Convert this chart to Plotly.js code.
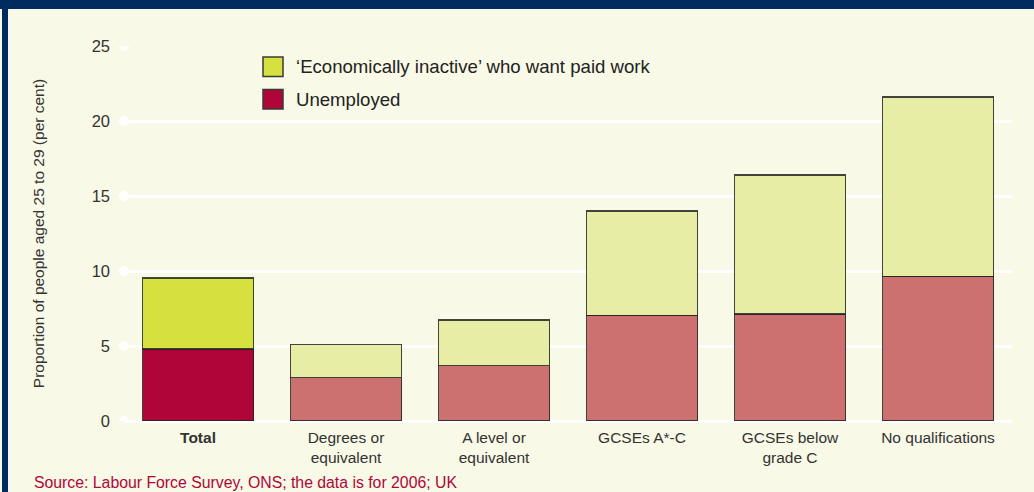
<!DOCTYPE html>
<html>
<head>
<meta charset="utf-8">
<script src="https://cdn.plot.ly/plotly-3.0.1.min.js"></script>
<style>
  html, body { margin: 0; padding: 0; background: #f8f9e6; }
  #frame { position: absolute; left: 0; top: 0; width: 1034px; height: 492px; overflow: hidden; background: #f8f9e6; }
  .bar-top { position: absolute; left: 0; top: 0; width: 1034px; height: 9px; background: #002b5e; }
  .bar-left { position: absolute; left: 2px; top: 0; width: 6px; height: 492px; background: #002b5e; }
  #chart { position: absolute; left: 0; top: 0; width: 1034px; height: 492px; }
</style>
</head>
<body>
<div id="frame">
  <div class="bar-top"></div>
  <div class="bar-left"></div>
  <div id="chart"></div>
</div>
<script>
// ---- data ----
const categories = ["<b>Total</b>", "Degrees or<br>equivalent", "A level or<br>equivalent", "GCSEs A*-C", "GCSEs below<br>grade C", "No qualifications"];
const unemployed = [4.8, 2.9, 3.7, 7.05, 7.15, 9.65];
const inactiveWantWork = [4.75, 2.2, 3.05, 6.95, 9.25, 11.95];
const seriesNames = ["\u2018Economically inactive\u2019 who want paid work", "Unemployed"];
const yTicks = [0, 5, 10, 15, 20, 25];
const sourceText = "Source: Labour Force Survey, ONS; the data is for 2006; UK";

// ---- styles ----
const unempColors = categories.map((c, i) => i === 0 ? "#b00538" : "#cd7070");
const inactColors = categories.map((c, i) => i === 0 ? "#d6e03f" : "#e7eda4");
const outline = { color: "rgba(35,35,35,0.85)", width: 1.5 };
const FONT = "Liberation Sans, Arial, sans-serif";

const traces = [
  { type: "bar", name: seriesNames[1], x: categories, y: unemployed,
    marker: { color: unempColors, line: outline }, width: 0.75, showlegend: false, hoverinfo: "x+y+name" },
  { type: "bar", name: seriesNames[0], x: categories, y: inactiveWantWork,
    marker: { color: inactColors, line: outline }, width: 0.75, showlegend: false, hoverinfo: "x+y+name" }
];

// pixel helpers for layout decorations (plot area: x 124..1012, y 46..421)
const L = 124, R = 1012, T = 46, B = 421;
const px = v => (v - L) / (R - L);
const py = v => (B - v) / (B - T);

const shapes = [];
// white dots at the left end of every gridline
yTicks.forEach(t => shapes.push({
  type: "circle", xref: "paper", yref: "y", xsizemode: "pixel", ysizemode: "pixel",
  xanchor: 0, yanchor: t, x0: -5, x1: 5, y0: -5, y1: 5,
  fillcolor: "#ffffff", line: { width: 0 }, layer: "below"
}));
// legend swatches
const legendRows = [
  { name: seriesNames[0], color: inactColors[0], top: 57 },
  { name: seriesNames[1], color: unempColors[0], top: 89.5 }
];
const annotations = [];
legendRows.forEach(r => {
  shapes.push({ type: "rect", xref: "paper", yref: "paper",
    x0: px(263), x1: px(283), y0: py(r.top + 19.5), y1: py(r.top),
    fillcolor: r.color, line: { color: "#3a3a3a", width: 1.5 } });
  annotations.push({ xref: "paper", yref: "paper", x: px(294), y: py(r.top + 9.75),
    xanchor: "left", yanchor: "middle", showarrow: false, text: r.name,
    font: { size: 18.6, color: "#222", family: FONT } });
});
annotations.push({ xref: "paper", yref: "paper", x: px(32), y: py(493), xanchor: "left", yanchor: "bottom",
  showarrow: false, text: sourceText, font: { size: 15.8, color: "#b0053a", family: FONT } });

const layout = {
  width: 1034, height: 492,
  margin: { l: L, r: 1034 - R, t: T, b: 492 - B, pad: 0 },
  paper_bgcolor: "rgba(0,0,0,0)", plot_bgcolor: "rgba(0,0,0,0)",
  barmode: "stack", bargap: 0.25,
  font: { family: FONT, color: "#333" },
  xaxis: { type: "category", tickfont: { size: 15.5, color: "#333" }, showgrid: false, showline: false,
           ticks: "", zeroline: false, fixedrange: true, ticklabelstandoff: 5 },
  yaxis: { range: [0, 25], tickvals: yTicks, ticktext: yTicks.map(String),
           tickfont: { size: 16.5, color: "#333" }, showgrid: true, gridcolor: "#ffffff", gridwidth: 2.5,
           zeroline: true, zerolinecolor: "#ffffff", zerolinewidth: 2.5, showline: false, ticks: "",
           ticklabelstandoff: 13, fixedrange: true,
           title: { text: "Proportion of people aged 25 to 29 (per cent)", font: { size: 15.5, color: "#333" }, standoff: 43 } },
  shapes: shapes,
  annotations: annotations,
  showlegend: false
};

Plotly.newPlot("chart", traces, layout, { displayModeBar: false, staticPlot: false });
</script>
</body>
</html>
